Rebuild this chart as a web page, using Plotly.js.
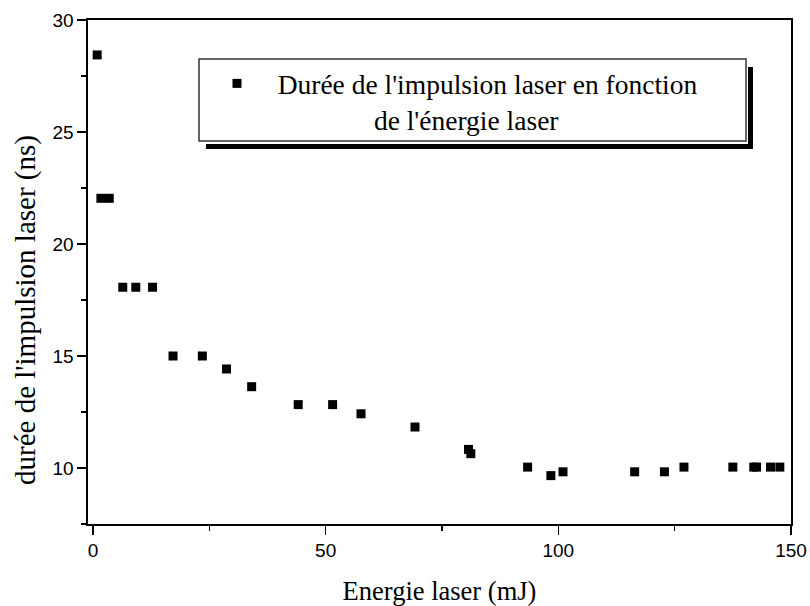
<!DOCTYPE html>
<html>
<head>
<meta charset="utf-8">
<script src="https://cdn.plot.ly/plotly-3.0.1.min.js"></script>
<style>html,body{margin:0;padding:0;background:#fff;}#chart{width:810px;height:606px;}</style>
</head>
<body>
<div id="chart"></div>
<script>
// Data
const energy_mJ = [0.9, 1.7, 3.5, 6.4, 9.2, 12.8, 17.2, 23.5, 28.7, 34.1, 44.1, 51.5, 57.6, 69.2, 80.7, 81.2, 93.4, 98.4, 101.0, 116.4, 122.8, 127.0, 137.5, 142.0, 142.6, 145.6, 147.6];
const duration_ns = [28.44, 22.04, 22.04, 18.07, 18.07, 18.07, 15.0, 15.0, 14.42, 13.63, 12.83, 12.83, 12.42, 11.83, 10.83, 10.64, 10.04, 9.66, 9.83, 9.83, 9.83, 10.04, 10.04, 10.04, 10.04, 10.04, 10.04];
const seriesName = "\u00a0\u00a0\u00a0Durée de l'impulsion laser en fonction<br>" + "\u00a0".repeat(17) + "de l'énergie laser";
const xTitle = "Energie laser (mJ)";
const yTitle = "durée de l'impulsion laser (ns)";
const xTicks = [0, 50, 100, 150];
const yTicks = [10, 15, 20, 25, 30];

const W = 810, H = 606;
const M = {l: 88, r: 19, t: 20, b: 82};
const PW = W - M.l - M.r, PH = H - M.t - M.b;
const px = x => (x - M.l) / PW;
const py = y => (H - M.b - y) / PH;

const serif = "Liberation Serif";
const sans = "Liberation Sans";

const trace = {
  x: energy_mJ, y: duration_ns, mode: 'markers', type: 'scatter',
  name: seriesName,
  marker: {symbol: 'square', size: 9, color: '#000'}
};

const axisCommon = {
  showgrid: false, zeroline: false, showline: true, linecolor: '#000', linewidth: 1.6,
  mirror: true, ticks: 'outside', ticklen: 9, tickwidth: 1.4, tickcolor: '#000',
  tickfont: {family: sans, size: 19, color: '#000'},
  minor: {ticks: 'outside', ticklen: 5, tickwidth: 1.2, tickcolor: '#000'}
};

const layout = {
  width: W, height: H, margin: M,
  paper_bgcolor: '#fff', plot_bgcolor: '#fff',
  showlegend: true,
  legend: {
    x: px(217), y: py(59), xanchor: 'left', yanchor: 'top', valign: 'top',
    bgcolor: 'rgba(0,0,0,0)', borderwidth: 0,
    font: {family: serif, size: 27.5, color: '#000'}
  },
  xaxis: Object.assign({}, axisCommon, {
    range: [-1.07, 150], tickvals: xTicks, ticktext: xTicks.map(String),
    minor: Object.assign({}, axisCommon.minor, {dtick: 25, tick0: 0}),
    title: {text: xTitle, font: {family: serif, size: 26.5, color: '#000'}, standoff: 21}
  }),
  yaxis: Object.assign({}, axisCommon, {
    range: [7.5, 30], tickvals: yTicks, ticktext: yTicks.map(String),
    minor: Object.assign({}, axisCommon.minor, {dtick: 2.5, tick0: 0})
  }),
  annotations: [
    {text: yTitle, xref: 'paper', yref: 'paper', x: px(25), y: py(310), xanchor: 'center', yanchor: 'middle',
     textangle: -90, showarrow: false, font: {family: serif, size: 29, color: '#000'}}
  ],
  shapes: [
    // shadow
    {type: 'rect', xref: 'paper', yref: 'paper', x0: px(206), x1: px(753), y0: py(149), y1: py(144), fillcolor: '#000', line: {width: 0}, layer: 'above'},
    {type: 'rect', xref: 'paper', yref: 'paper', x0: px(748), x1: px(753), y0: py(149), y1: py(67), fillcolor: '#000', line: {width: 0}, layer: 'above'},
    // box
    {type: 'rect', xref: 'paper', yref: 'paper', x0: px(199), x1: px(746), y0: py(141), y1: py(59), fillcolor: 'rgba(0,0,0,0)', line: {width: 1.5, color: '#333'}, layer: 'above'}
  ]
};

Plotly.newPlot('chart', [trace], layout, {displayModeBar: false, staticPlot: true});
</script>
</body>
</html>
